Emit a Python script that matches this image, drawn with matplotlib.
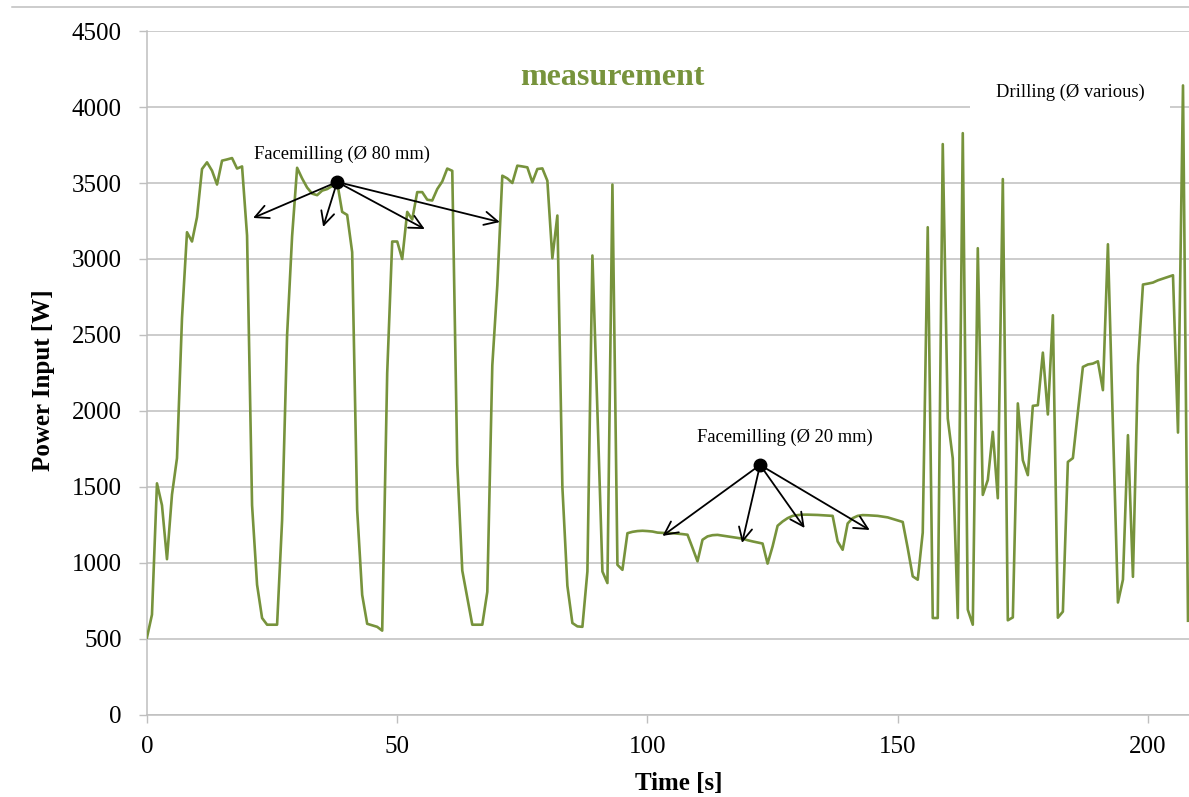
import matplotlib
matplotlib.use("Agg")
import matplotlib.pyplot as plt
import numpy as np
from matplotlib.lines import Line2D

# time axis in seconds, one sample per second
time_s = np.arange(0, 209)

# measured power input [W]
power_w = [
    510, 660, 1524, 1380, 1025, 1450, 1690, 2610, 3176, 3115,
    3275, 3592, 3636, 3581, 3490, 3647, 3655, 3664, 3595, 3609,
    3154, 1380, 857, 638, 594, 594, 594, 1280, 2500, 3150,
    3600, 3530, 3470, 3430, 3420, 3450, 3460, 3480, 3505, 3310,
    3290, 3045, 1350, 790, 600, 590, 580, 555, 2250, 3115,
    3115, 3000, 3310, 3260, 3440, 3440, 3390, 3385, 3460, 3510,
    3595, 3580, 1650, 950, 770, 594, 594, 594, 810, 2300,
    2826, 3548, 3530, 3500, 3614, 3609, 3603, 3505, 3592, 3596,
    3515, 3005, 3286, 1500, 850, 605, 583, 580, 944, 3023,
    2000, 944, 868, 3490, 988, 955, 1196, 1205, 1210, 1212,
    1210, 1207, 1200, 1198, 1196, 1196, 1193, 1190, 1186, 1100,
    1011, 1153, 1175, 1183, 1185, 1180, 1175, 1170, 1165, 1160,
    1150, 1142, 1135, 1128, 996, 1109, 1245, 1273, 1295, 1310,
    1315, 1318, 1318, 1317, 1316, 1314, 1312, 1310, 1142, 1087,
    1260, 1295, 1310, 1315, 1314, 1312, 1310, 1305, 1300, 1290,
    1280, 1270, 1098, 912, 890, 1200, 3209, 638, 638, 3756,
    1951, 1688, 638, 3828, 693, 594, 3071, 1448, 1546, 1863,
    1426, 3526, 623, 642, 2050, 1676, 1578, 2034, 2038, 2384,
    1977, 2630, 640, 680, 1665, 1690, 1994, 2290, 2306, 2312,
    2327, 2137, 3097, 1900, 740, 890, 1841, 909, 2301, 2832,
    2838, 2845, 2860, 2871, 2882, 2893, 1858, 4142, 620,
]

x_ticks = [0, 50, 100, 150, 200]
y_ticks = [0, 500, 1000, 1500, 2000, 2500, 3000, 3500, 4000, 4500]

# annotation anchors (dot) and arrow targets
mill80_dot = (38, 3507)
mill80_targets = [(21.2, 3270), (35.2, 3211), (55.5, 3197), (70.5, 3243)]
mill20_dot = (122.5, 1645)
mill20_targets = [(103.0, 1178), (118.9, 1132), (131.4, 1230), (144.4, 1217)]

green = "#77933C"
grid_gray = "#BFBFBF"

plt.rcParams["font.family"] = ["Liberation Serif", "DejaVu Serif"]

fig = plt.figure(figsize=(11.89, 7.97), dpi=100)
ax = fig.add_axes([0.1236, 0.1029, 0.8764, 0.8582])

ax.plot(time_s, power_w, color=green, linewidth=1.9, zorder=3)

ax.set_xlim(0, 208.2)
ax.set_ylim(0, 4500)
ax.set_xticks(x_ticks)
ax.set_yticks(y_ticks)
ax.tick_params(axis="both", labelsize=18, color=grid_gray, length=6, width=1)
ax.tick_params(axis="y", pad=12)
ax.tick_params(axis="x", pad=9)

ax.yaxis.grid(True, color=grid_gray, linewidth=1.1)
ax.set_axisbelow(True)
for side in ["top", "right"]:
    ax.spines[side].set_visible(False)
for side in ["left", "bottom"]:
    ax.spines[side].set_color(grid_gray)
    ax.spines[side].set_linewidth(1.1)

ax.set_xlabel("Time [s]", fontsize=18, fontweight="bold")
ax.xaxis.set_label_coords(0.51, -0.083)
ax.set_ylabel("Power Input [W]", fontsize=18, fontweight="bold")
ax.yaxis.set_label_coords(-0.088, 0.49)

ax.text(92.9, 4197, "measurement", color=green, fontsize=23, fontweight="bold",
        ha="center", va="center")

ax.text(184.4, 4099, "Drilling (Ø various)", fontsize=13.3, ha="center", va="center",
        bbox=dict(boxstyle="square,pad=1.4", facecolor="white", edgecolor="none"),
        zorder=4)

ax.text(39, 3691, "Facemilling (Ø 80 mm)", fontsize=13.3, ha="center", va="center")
ax.text(127.5, 1829, "Facemilling (Ø 20 mm)", fontsize=13.3, ha="center", va="center")

for dot, targets in [(mill80_dot, mill80_targets), (mill20_dot, mill20_targets)]:
    for tgt in targets:
        ax.annotate("", xy=tgt, xytext=dot,
                    arrowprops=dict(arrowstyle="->", color="black", lw=1.3,
                                    shrinkA=0, shrinkB=0, mutation_scale=24),
                    zorder=5)
    ax.plot(*dot, "o", color="black", markersize=9, zorder=6)

# thin border line along the top of the chart
fig.add_artist(Line2D([0.01, 1.0], [0.9912, 0.9912], color=grid_gray, linewidth=1.1))

fig.savefig("out.png", dpi=100)
